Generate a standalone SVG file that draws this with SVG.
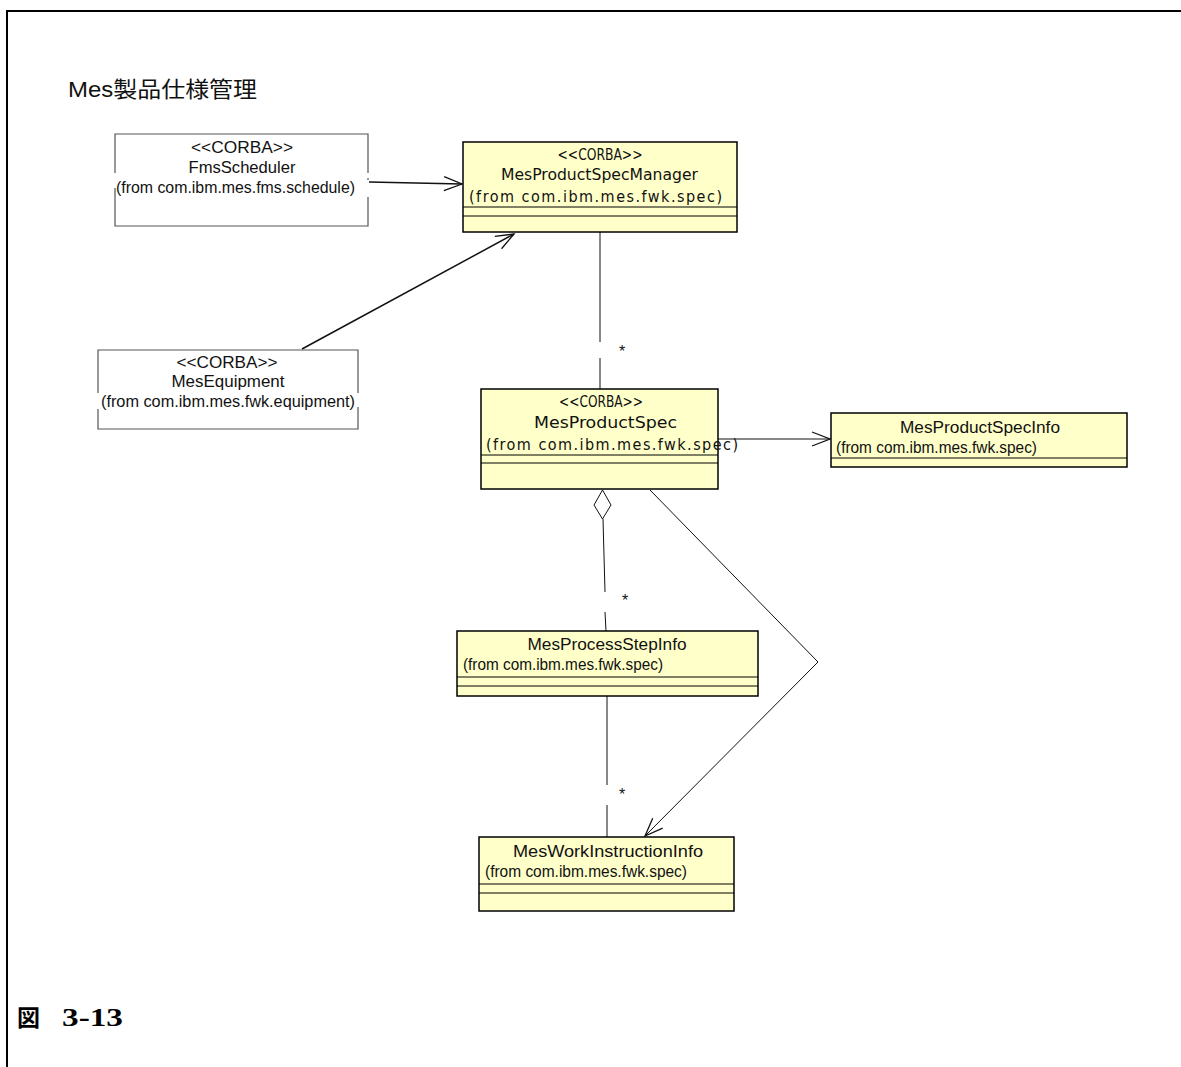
<svg xmlns="http://www.w3.org/2000/svg" width="1181" height="1067" viewBox="0 0 1181 1067">
  <style>
    .lbl { font-family: "Liberation Sans", Arial, sans-serif; font-size: 16px; fill: #111; }
    .nar { font-family: "DejaVu Sans Condensed", "Liberation Sans Narrow", "Liberation Sans", sans-serif; font-size: 16px; fill: #111; }
    .cls { fill: #FFFFCA; stroke: #000; stroke-width: 1.5; }
    .sep { stroke: #000; stroke-width: 1; fill: none; }
    .ext { fill: none; stroke: #555; stroke-width: 1.2; }
    .edge { fill: none; stroke: #111; stroke-width: 1; }
    .edge2 { fill: none; stroke: #111; stroke-width: 1.5; }
  </style>
  <defs>
    <marker id="open" markerUnits="userSpaceOnUse" markerWidth="24" markerHeight="20" viewBox="-20 -10 22 20" refX="0" refY="0" orient="auto">
      <path d="M-18,-7 L0,0 L-18,7" fill="none" stroke="#111" stroke-width="1.3"/>
    </marker>
  </defs>

  <rect width="1181" height="1067" fill="#fff"/>
  <!-- frame -->
  <path d="M7,1067 V11 H1181" fill="none" stroke="#000" stroke-width="2"/>

  <text x="68" y="97" style="font-family:'Liberation Sans','Noto Sans CJK JP',sans-serif;font-size:22px" fill="#111" textLength="189" lengthAdjust="spacingAndGlyphs">Mes製品仕様管理</text>

  <!-- connectors -->
  <g id="connectors">
    <line class="edge2" x1="369" y1="182" x2="462" y2="184" marker-end="url(#open)"/>
    <line class="edge2" x1="302" y1="349" x2="514" y2="234" marker-end="url(#open)"/>
    <path class="edge" d="M600,232 V342 M600,358 V389"/>
    <text class="lbl" x="619" y="357">*</text>
    <line class="edge" x1="718" y1="439" x2="830" y2="439" marker-end="url(#open)"/>
    <path d="M602.5,490 L611,505 L602.5,519 L594,505 Z" fill="#fff" stroke="#111" stroke-width="1"/>
    <path class="edge" d="M603,519 L605,592 M605,612 L606,631"/>
    <text class="lbl" x="622" y="606">*</text>
    <path class="edge" d="M650,490 L818,662 L645,836" marker-end="url(#open)"/>
    <path class="edge" d="M607,696 V785 M607,805 V837"/>
    <text class="lbl" x="619" y="800">*</text>
  </g>

  <!-- FmsScheduler -->
  <g id="fmsScheduler">
    <rect x="115" y="134" width="253" height="92" fill="#fff"/>
    <path class="ext" d="M115,173 V134 H368 V173 M368,178 V180 M368,197 V226 H115 V188"/>
    <text class="lbl" x="242" y="153" text-anchor="middle" textLength="102" lengthAdjust="spacingAndGlyphs">&lt;&lt;CORBA&gt;&gt;</text>
    <text class="lbl" x="242" y="173" text-anchor="middle" textLength="107" lengthAdjust="spacingAndGlyphs">FmsScheduler</text>
    <text class="lbl" x="116" y="193" textLength="239" lengthAdjust="spacingAndGlyphs">(from com.ibm.mes.fms.schedule)</text>
  </g>

  <!-- MesProductSpecManager -->
  <g id="mesProductSpecManager">
    <rect class="cls" x="463" y="142" width="274" height="90"/>
    <line class="sep" x1="463" y1="207" x2="737" y2="207"/>
    <line class="sep" x1="463" y1="216" x2="737" y2="216" stroke="#444"/>
    <text class="nar" x="600" y="160" text-anchor="middle" textLength="85" lengthAdjust="spacingAndGlyphs">&lt;&lt;CORBA&gt;&gt;</text>
    <text class="nar" x="501" y="180" textLength="197" lengthAdjust="spacingAndGlyphs">MesProductSpecManager</text>
    <text class="nar" x="469" y="202" textLength="253" lengthAdjust="spacing">(from com.ibm.mes.fwk.spec)</text>
  </g>

  <!-- MesEquipment -->
  <g id="mesEquipment">
    <rect x="98" y="350" width="260" height="79" fill="#fff"/>
    <path class="ext" d="M98,393 V350 H358 V393 M358,407 V429 H98 V409"/>
    <text class="lbl" x="227" y="368" text-anchor="middle" textLength="101" lengthAdjust="spacingAndGlyphs">&lt;&lt;CORBA&gt;&gt;</text>
    <text class="lbl" x="228" y="387" text-anchor="middle" textLength="113" lengthAdjust="spacingAndGlyphs">MesEquipment</text>
    <text class="lbl" x="101" y="407" textLength="254" lengthAdjust="spacingAndGlyphs">(from com.ibm.mes.fwk.equipment)</text>
  </g>

  <!-- MesProductSpec -->
  <g id="mesProductSpec">
    <rect class="cls" x="481" y="389" width="237" height="100"/>
    <line class="sep" x1="481" y1="455" x2="718" y2="455"/>
    <line class="sep" x1="481" y1="463" x2="718" y2="463" stroke="#444"/>
    <text class="nar" x="601" y="407" text-anchor="middle" textLength="84" lengthAdjust="spacingAndGlyphs">&lt;&lt;CORBA&gt;&gt;</text>
    <text class="nar" x="534" y="428" textLength="143" lengthAdjust="spacingAndGlyphs">MesProductSpec</text>
    <text class="nar" x="486" y="450" textLength="252" lengthAdjust="spacing">(from com.ibm.mes.fwk.spec)</text>
  </g>

  <!-- MesProductSpecInfo -->
  <g id="mesProductSpecInfo">
    <rect class="cls" x="831" y="413" width="296" height="54"/>
    <line class="sep" x1="831" y1="458" x2="1127" y2="458" stroke-width="1.5"/>
    <text class="lbl" x="980" y="433" text-anchor="middle" textLength="160" lengthAdjust="spacingAndGlyphs">MesProductSpecInfo</text>
    <text class="lbl" x="836" y="453" textLength="201" lengthAdjust="spacingAndGlyphs">(from com.ibm.mes.fwk.spec)</text>
  </g>

  <!-- MesProcessStepInfo -->
  <g id="mesProcessStepInfo">
    <rect class="cls" x="457" y="631" width="301" height="65"/>
    <line class="sep" x1="457" y1="677" x2="758" y2="677"/>
    <line class="sep" x1="457" y1="686" x2="758" y2="686" stroke="#444"/>
    <text class="lbl" x="607" y="650" text-anchor="middle" textLength="159" lengthAdjust="spacingAndGlyphs">MesProcessStepInfo</text>
    <text class="lbl" x="463" y="670" textLength="200" lengthAdjust="spacingAndGlyphs">(from com.ibm.mes.fwk.spec)</text>
  </g>

  <!-- MesWorkInstructionInfo -->
  <g id="mesWorkInstructionInfo">
    <rect class="cls" x="479" y="837" width="255" height="74"/>
    <line class="sep" x1="479" y1="884" x2="734" y2="884"/>
    <line class="sep" x1="479" y1="893" x2="734" y2="893" stroke="#444"/>
    <text class="lbl" x="608" y="857" text-anchor="middle" textLength="190" lengthAdjust="spacingAndGlyphs">MesWorkInstructionInfo</text>
    <text class="lbl" x="485" y="877" textLength="202" lengthAdjust="spacingAndGlyphs">(from com.ibm.mes.fwk.spec)</text>
  </g>

  <!-- caption -->
  <text x="17" y="1026" style="font-family:'Noto Sans CJK JP',sans-serif;font-size:23px;font-weight:bold" fill="#000">図</text>
  <text x="62" y="1026" style="font-family:'Liberation Serif',serif;font-size:26px;font-weight:bold" fill="#000" textLength="61" lengthAdjust="spacingAndGlyphs">3-13</text>
</svg>
